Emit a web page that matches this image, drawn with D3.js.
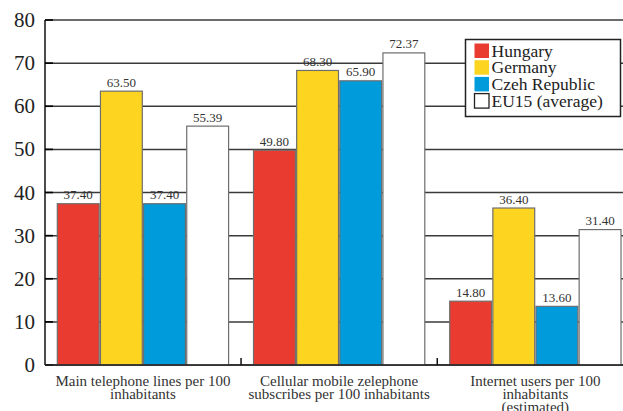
<!DOCTYPE html>
<html><head><meta charset="utf-8">
<script src="https://cdn.jsdelivr.net/npm/d3@7"></script>
<style>
html,body{margin:0;padding:0;background:#fff;}
svg text{font-family:"Liberation Serif","Times New Roman",Times,"DejaVu Serif",serif;}
</style></head>
<body><svg id="c" width="623" height="411"></svg>
<script>
const categories = [
  ["Main telephone lines per 100", "inhabitants"],
  ["Cellular mobile zelephone", "subscribes per 100 inhabitants"],
  ["Internet users per 100", "inhabitants", "(estimated)"]
];
const seriesNames = ["Hungary", "Germany", "Czeh Republic", "EU15 (average)"];
const hungary = [37.40, 49.80, 14.80];
const germany = [63.50, 68.30, 36.40];
const czech   = [37.40, 65.90, 13.60];
const eu15    = [55.39, 72.37, 31.40];
const colors  = ["#EA3B30", "#FDD41F", "#009BDA", "#FFFFFF"];
const yTicks  = [0, 10, 20, 30, 40, 50, 60, 70, 80];

(function() {
const FONT = "'Liberation Serif', 'Times New Roman', Times, 'DejaVu Serif', serif";
const series = [hungary, germany, czech, eu15];
const svg = d3.select("#c").attr("font-family", FONT);
const mL = 45, mR = 623, mT = 20, mB = 365;

const y = d3.scaleLinear().domain([0, 80]).range([mB, mT]);
const catIdx = categories.map((d, i) => i);
const x0 = d3.scaleBand().domain(catIdx).range([57.3, 621]).paddingInner(0.127).paddingOuter(0);
const x1 = d3.scaleBand().domain(d3.range(series.length)).range([0, x0.bandwidth()]).paddingInner(0.03).paddingOuter(0);

// gridlines
svg.append("g").selectAll("line").data(yTicks).join("line")
  .attr("x1", mL).attr("x2", mR)
  .attr("y1", d => y(d)).attr("y2", d => y(d))
  .attr("stroke", "#3a3a3a").attr("stroke-width", 1.5);

// bars
const g = svg.append("g");
series.forEach((vals, si) => {
  g.selectAll(null).data(vals).join("rect")
    .attr("x", (d, i) => x0(i) + x1(si))
    .attr("y", d => y(d))
    .attr("width", x1.bandwidth())
    .attr("height", d => y(0) - y(d))
    .attr("fill", colors[si])
    .attr("stroke", "#6e6e6e").attr("stroke-width", 1.2);
  g.selectAll(null).data(vals).join("text")
    .attr("x", (d, i) => x0(i) + x1(si) + x1.bandwidth() / 2)
    .attr("y", d => y(d) - 4.5)
    .attr("text-anchor", "middle").attr("font-family", FONT)
    .attr("font-size", 13).attr("fill", "#333")
    .text(d => d.toFixed(2));
});

// left axis line and inner ticks
svg.append("line").attr("x1", mL).attr("x2", mL).attr("y1", mT).attr("y2", mB)
  .attr("stroke", "#111").attr("stroke-width", 1.5);
svg.append("g").selectAll("line").data(yTicks).join("line")
  .attr("x1", mL).attr("x2", mL + 8)
  .attr("y1", d => y(d)).attr("y2", d => y(d))
  .attr("stroke", "#000").attr("stroke-width", 1.6);
svg.append("g").selectAll("text").data(yTicks).join("text")
  .attr("x", 35).attr("y", d => y(d) + 7)
  .attr("text-anchor", "end").attr("font-family", FONT).attr("font-size", 21).attr("fill", "#222")
  .text(d => d);

// bottom axis
svg.append("line").attr("x1", mL).attr("x2", mR).attr("y1", mB).attr("y2", mB)
  .attr("stroke", "#222").attr("stroke-width", 1.5);
const between = catIdx.slice(1).map(i => (x0(i - 1) + x0.bandwidth() + x0(i)) / 2);
svg.append("g").selectAll("line").data(between).join("line")
  .attr("x1", d => d).attr("x2", d => d).attr("y1", mB).attr("y2", mB - 7)
  .attr("stroke", "#111").attr("stroke-width", 1.5);

// category labels
const cl = svg.append("g").selectAll("text").data(categories).join("text")
  .attr("text-anchor", "middle").attr("font-family", FONT).attr("font-size", 15).attr("fill", "#333");
cl.each(function(lines, i) {
  d3.select(this).selectAll("tspan").data(lines).join("tspan")
    .attr("x", x0(i) + x0.bandwidth() / 2)
    .attr("y", (d, j) => 385.5 + j * 13.3)
    .text(d => d);
});

// legend
const lg = svg.append("g");
lg.append("rect").attr("x", 465.5).attr("y", 39.5).attr("width", 155).attr("height", 77)
  .attr("fill", "#fff").attr("stroke", "#222").attr("stroke-width", 1.5);
seriesNames.forEach((name, i) => {
  const yy = 43.5 + i * 16.7;
  lg.append("rect").attr("x", 474.5).attr("y", yy).attr("width", 14.5).attr("height", 14.5)
    .attr("fill", colors[i]).attr("stroke", i === 3 ? "#222" : "none").attr("stroke-width", 1.3);
  lg.append("text").attr("x", 491.5).attr("y", yy + 13).attr("font-family", FONT)
    .attr("font-size", 17.5).attr("fill", "#222").text(name);
});
})();
</script></body></html>
